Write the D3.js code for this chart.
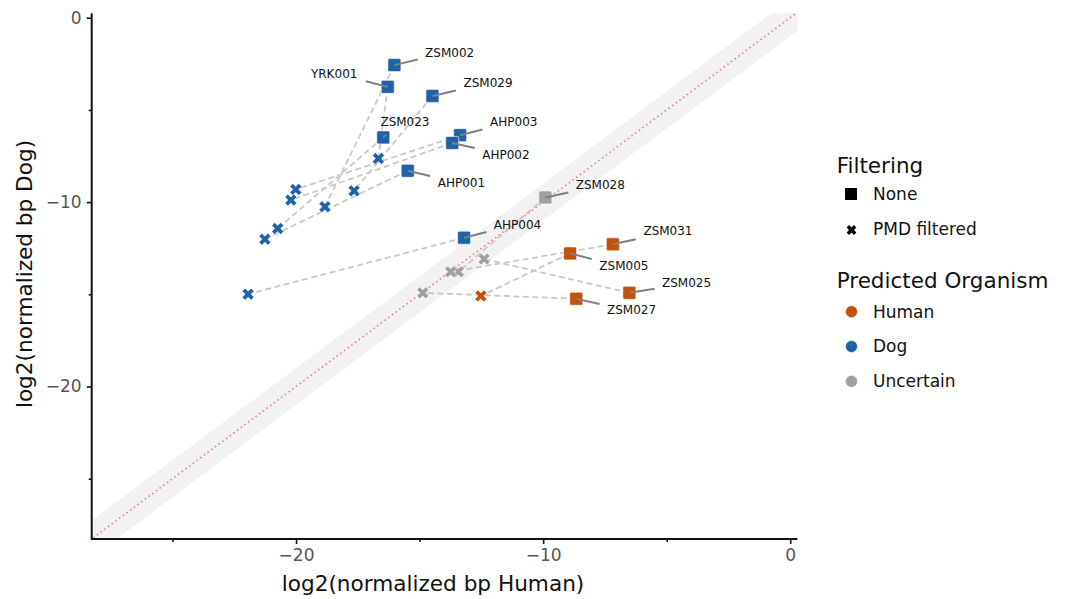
<!DOCTYPE html>
<html>
<head>
<meta charset="utf-8">
<script src="https://cdn.jsdelivr.net/npm/d3@7"></script>
<style>
  body { margin: 0; background: #fff; }
  text { font-family: "DejaVu Sans", sans-serif; }
</style>
</head>
<body>
<div class="chart"></div>
<script>
const width = 1069;
const height = 599;

// samples, one "None" point and one "PMD filtered" point each
const samples = ["ZSM002", "YRK001", "ZSM029", "ZSM023", "AHP003", "AHP002", "AHP001",
    "AHP004", "ZSM028", "ZSM031", "ZSM005", "ZSM025", "ZSM027"];
const noneHuman = [-16.02, -16.29, -14.48, -16.47, -13.36, -13.68, -15.48,
    -13.20, -9.91, -7.18, -8.91, -6.51, -8.66];
const noneDog = [-2.57, -3.75, -4.24, -6.49, -6.37, -6.79, -8.30,
    -11.93, -9.75, -12.29, -12.78, -14.92, -15.24];
const nonePred = ["Dog", "Dog", "Dog", "Dog", "Dog", "Dog", "Dog",
    "Dog", "Uncertain", "Human", "Human", "Human", "Human"];
const pmdHuman = [-18.83, -16.67, -17.65, -20.74, -20.01, -20.21, -21.26,
    -21.94, -13.43, -13.74, -12.52, -12.39, -14.87];
const pmdDog = [-10.25, -7.63, -9.39, -11.43, -9.31, -9.89, -12.01,
    -14.99, -13.78, -13.78, -15.09, -13.09, -14.92];
const pmdPred = ["Dog", "Dog", "Dog", "Dog", "Dog", "Dog", "Dog",
    "Dog", "Uncertain", "Uncertain", "Human", "Uncertain", "Uncertain"];

const organisms = ["Human", "Dog", "Uncertain"];
const filterings = ["None", "PMD filtered"];
const majorTicks = [-20, -10, 0];
const minorTicks = [-25, -15, -5];
const bandHalf = 1;

// label placement (pixels from the square): text dx, dy, anchor, leader end dx, dy
const labelLayout = [
    [30.7, -8.3, "start", 23.4, -5.7],
    [-30.3, -9, "end", -22, -5.6],
    [31, -9, "start", 23.4, -5.4],
    [21.7, -11.3, "middle", 3, -3],
    [30, -9, "start", 22.3, -5.7],
    [30, 16, "start", 22.6, 5],
    [30, 16, "start", 22.3, 5.3],
    [29.8, -8.8, "start", 22.5, -5.7],
    [30.4, -9, "start", 23, -5],
    [30.6, -9, "start", 23, -5],
    [29.3, 16.3, "start", 21.7, 5.6],
    [32.6, -5.4, "start", 25.3, -4],
    [30.7, 15.3, "start", 23.3, 5.3]
];

const color = d3.scaleOrdinal().domain(organisms).range(["#c5500a", "#2062a8", "#a0a0a0"]);

const pLeft = 91.7, pRight = 797.4, pTop = 13.3, pBottom = 539;
const xScale = d3.scaleLinear().domain([-28.27, 0.29]).range([pLeft, pRight]);
const yScale = d3.scaleLinear().domain([-28.27, 0.24]).range([pBottom, pTop]);

const svg = d3.select(".chart").append("svg")
    .attr("width", width)
    .attr("height", height);

svg.append("defs").append("clipPath").attr("id", "clip")
    .append("rect").attr("x", pLeft).attr("y", pTop)
    .attr("width", pRight - pLeft).attr("height", pBottom - pTop);

const plot = svg.append("g").attr("clip-path", "url(#clip)");

// band around y = x
const lo = -30, hi = 2;
plot.append("path")
    .attr("d", d3.line()([
        [xScale(lo), yScale(lo + bandHalf)], [xScale(hi), yScale(hi + bandHalf)],
        [xScale(hi), yScale(hi - bandHalf)], [xScale(lo), yScale(lo - bandHalf)]
    ]) + "Z")
    .attr("fill", "#f2f2f2");

plot.append("line")
    .attr("x1", xScale(lo)).attr("y1", yScale(lo))
    .attr("x2", xScale(hi)).attr("y2", yScale(hi))
    .attr("stroke", "#f28080")
    .attr("stroke-width", 1.6)
    .attr("stroke-dasharray", "1.6,3");

const rows = samples.map((s, i) => ({
    name: s,
    nx: noneHuman[i], ny: noneDog[i], np: nonePred[i],
    px: pmdHuman[i], py: pmdDog[i], pp: pmdPred[i],
    lay: labelLayout[i]
}));

// dashed links between the two points of a sample
plot.append("g").selectAll("line")
    .data(rows).enter().append("line")
    .attr("x1", d => xScale(d.nx)).attr("y1", d => yScale(d.ny))
    .attr("x2", d => xScale(d.px)).attr("y2", d => yScale(d.py))
    .attr("stroke", "#c8c8c8")
    .attr("stroke-width", 1.8)
    .attr("stroke-dasharray", "6,3.5");

// PMD filtered crosses
const cross = d3.symbol().type(d3.symbolCross).size(90);
plot.append("g").selectAll("path")
    .data(rows).enter().append("path")
    .attr("d", cross)
    .attr("transform", d => "translate(" + xScale(d.px) + "," + yScale(d.py) + ") rotate(45)")
    .attr("fill", d => color(d.pp))
    .attr("stroke", "#fff")
    .attr("stroke-width", 0.6);

// None squares
plot.append("g").selectAll("rect")
    .data(rows).enter().append("rect")
    .attr("x", d => xScale(d.nx) - 6.5)
    .attr("y", d => yScale(d.ny) - 6.5)
    .attr("width", 13).attr("height", 13)
    .attr("rx", 1.5)
    .attr("fill", d => color(d.np))
    .attr("stroke", "#fff")
    .attr("stroke-width", 0.6);

// leaders + labels
plot.append("g").selectAll("line")
    .data(rows).enter().append("line")
    .attr("x1", d => xScale(d.nx)).attr("y1", d => yScale(d.ny))
    .attr("x2", d => xScale(d.nx) + d.lay[3]).attr("y2", d => yScale(d.ny) + d.lay[4])
    .attr("stroke", "#808080")
    .attr("stroke-width", 2);

plot.append("g").selectAll("text")
    .data(rows).enter().append("text")
    .text(d => d.name)
    .attr("x", d => xScale(d.nx) + d.lay[0])
    .attr("y", d => yScale(d.ny) + d.lay[1])
    .attr("text-anchor", d => d.lay[2])
    .attr("font-size", 12)
    .attr("fill", "#111");

// axes
function styleAxis(g) {
    g.select(".domain").remove();
    g.selectAll(".tick line").attr("stroke", "#111").attr("stroke-width", 1.6);
    g.selectAll(".tick text").attr("fill", "#555").attr("font-size", 17)
        .attr("font-family", "DejaVu Sans, sans-serif");
}
svg.append("g")
    .attr("transform", "translate(0," + pBottom + ")")
    .call(d3.axisBottom(xScale).tickValues(majorTicks).tickSize(5).tickPadding(5))
    .call(styleAxis);
svg.append("g")
    .attr("transform", "translate(0," + pBottom + ")")
    .call(d3.axisBottom(xScale).tickValues(minorTicks).tickSize(3).tickFormat(""))
    .call(styleAxis);
svg.append("g")
    .attr("transform", "translate(" + pLeft + ",0)")
    .call(d3.axisLeft(yScale).tickValues(majorTicks).tickSize(5).tickPadding(5))
    .call(styleAxis);
svg.append("g")
    .attr("transform", "translate(" + pLeft + ",0)")
    .call(d3.axisLeft(yScale).tickValues(minorTicks).tickSize(3).tickFormat(""))
    .call(styleAxis);

svg.append("path")
    .attr("d", "M" + pLeft + "," + pTop + "V" + pBottom + "H" + pRight)
    .attr("fill", "none")
    .attr("stroke", "#111")
    .attr("stroke-width", 2);

svg.append("text")
    .text("log2(normalized bp Human)")
    .attr("x", 433).attr("y", 591)
    .attr("text-anchor", "middle")
    .attr("font-size", 21.6)
    .attr("fill", "#111");
svg.append("text")
    .text("log2(normalized bp Dog)")
    .attr("transform", "rotate(-90)")
    .attr("x", -274).attr("y", 32)
    .attr("text-anchor", "middle")
    .attr("font-size", 21.6)
    .attr("fill", "#111");

// legend
const legend = svg.append("g");
legend.append("text").text("Filtering")
    .attr("x", 836.7).attr("y", 173).attr("font-size", 21.5).attr("fill", "#111");
legend.append("rect")
    .attr("x", 845).attr("y", 188).attr("width", 12).attr("height", 12).attr("fill", "#000");
legend.append("path")
    .attr("d", d3.symbol().type(d3.symbolCross).size(60))
    .attr("transform", "translate(851.5,230) rotate(45)")
    .attr("fill", "#000");
legend.selectAll(".ftxt")
    .data(filterings).enter().append("text")
    .text(d => d)
    .attr("x", 873).attr("y", (d, i) => 200 + i * 35.3)
    .attr("font-size", 17).attr("fill", "#111");

legend.append("text").text("Predicted Organism")
    .attr("x", 836.7).attr("y", 288).attr("font-size", 21.5).attr("fill", "#111");
legend.selectAll("circle")
    .data(organisms).enter().append("circle")
    .attr("cx", 851.5).attr("cy", (d, i) => 311.7 + i * 34.8)
    .attr("r", 6)
    .attr("fill", d => color(d))
    .attr("stroke", "#fff").attr("stroke-width", 0.6);
legend.selectAll(".otxt")
    .data(organisms).enter().append("text")
    .text(d => d)
    .attr("x", 873).attr("y", (d, i) => 317.5 + i * 34.8)
    .attr("font-size", 17).attr("fill", "#111");
</script>
</body>
</html>
